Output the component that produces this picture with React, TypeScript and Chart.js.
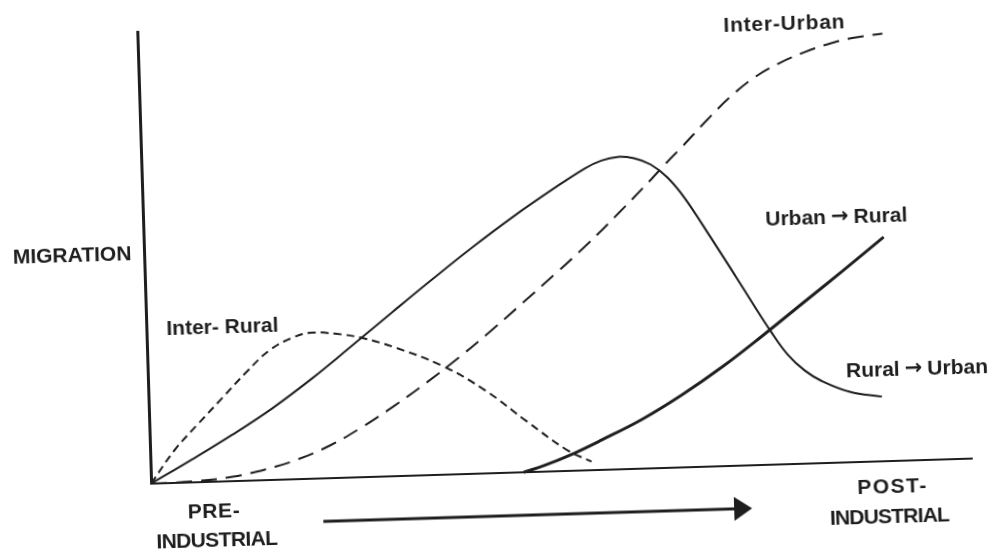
import React, { useEffect, useRef } from "react";
import { Chart, registerables } from "chart.js";

Chart.register(...registerables);

// Stage of the mobility transition (0 = pre-industrial, 100 = post-industrial)
const interRuralX = [0, 3, 6, 9, 12, 15, 18, 20, 23, 26, 30, 36, 41, 46, 50.7, 53.7];
const interRuralY = [0, 7.3, 13, 18.5, 24, 28.8, 31.5, 32.3, 31.9, 30.9, 28.6, 24.0, 18.4, 11.2, 4.7, 1.9];

const ruralUrbanX = [0, 5, 10, 15, 20, 25, 30, 35, 40, 45, 50, 54, 56, 58, 60, 62, 64, 66, 69, 72, 74, 76, 78, 80, 82, 85.4, 89.3];
const ruralUrbanY = [0, 5.0, 10.2, 15.8, 22.2, 29.2, 36.3, 43.3, 50.1, 56.5, 62.4, 66.8, 68.4, 69.1, 68.7, 67.2, 64.2, 59.6, 50.8, 41.7, 35.5, 29.5, 24.2, 20.6, 18.2, 15.6, 14.3];

const interUrbanX = [0, 5, 10, 14, 18, 22, 26, 30, 34, 38, 42, 46, 50, 54, 58, 62, 64, 66, 69, 72, 75, 78, 81, 84, 87, 90.7];
const interUrbanY = [0, 0.2, 1.0, 2.4, 4.4, 7.3, 11.2, 15.7, 20.6, 25.9, 31.6, 37.6, 43.7, 50.0, 56.8, 63.9, 67.6, 71.1, 76.6, 81.7, 85.8, 88.7, 90.9, 92.6, 93.8, 94.6];

const urbanRuralX = [45.4, 48, 51, 55, 60, 65, 70, 75, 80, 85, 90.1];
const urbanRuralY = [0, 1.4, 3.4, 6.6, 10.9, 16.1, 22.0, 28.6, 35.5, 42.4, 49.6];

const seriesNames = ["Inter- Rural", "Rural \u2192 Urban", "Inter-Urban", "Urban \u2192 Rural"];
const axisLabelY = "MIGRATION";
const axisLabelStart = ["PRE-", "INDUSTRIAL"];
const axisLabelEnd = ["POST-", "INDUSTRIAL"];

const INK = "#1e1e1e";
const FONT = "bold 21px 'Liberation Sans', Arial, sans-serif";
const ARROW_FONT = "bold 21px 'DejaVu Sans', sans-serif";

const toPoints = (xs: number[], ys: number[]) => xs.map((x, i) => ({ x, y: ys[i] }));

const labelsPlugin = {
  id: "scanLabels",
  afterDraw(chart: any) {
    const ctx = chart.ctx as CanvasRenderingContext2D;
    ctx.save();
    ctx.fillStyle = INK;
    ctx.strokeStyle = INK;
    ctx.textBaseline = "middle";
    const put = (t: string, x: number, y: number, ls = 0) => {
      ctx.font = FONT;
      (ctx as any).letterSpacing = ls + "px";
      ctx.textAlign = "center";
      ctx.fillText(t, x, y);
    };
    // label with an arrow glyph drawn in a heavier font
    const putArrow = (t: string, x: number, y: number) => {
      const [a, b] = t.split(" \u2192 ");
      (ctx as any).letterSpacing = "0px";
      ctx.textAlign = "left";
      ctx.font = FONT;
      const wa = ctx.measureText(a).width;
      const wb = ctx.measureText(b).width;
      ctx.font = ARROW_FONT;
      const wr = ctx.measureText("\u2192").width;
      const gap = 5;
      const total = wa + wb + wr + gap * 2;
      let cx = x - total / 2;
      ctx.font = FONT;
      ctx.fillText(a, cx, y);
      cx += wa + gap;
      ctx.font = ARROW_FONT;
      ctx.fillText("\u2192", cx, y);
      cx += wr + gap;
      ctx.font = FONT;
      ctx.fillText(b, cx, y);
    };
    put(seriesNames[2], 792, 33, 0.8);
    putArrow(seriesNames[3], 838, 228);
    putArrow(seriesNames[1], 914, 382);
    put(seriesNames[0], 221, 319, 0);
    put(axisLabelY, 73, 243, 0);
    put(axisLabelStart[0], 207, 503, 0.6);
    put(axisLabelStart[1], 209, 532, -0.6);
    put(axisLabelEnd[0], 886, 499, 1.5);
    put(axisLabelEnd[1], 882, 529, -0.8);
    // progression arrow
    ctx.lineWidth = 3;
    ctx.beginPath();
    ctx.moveTo(316, 516);
    ctx.lineTo(730, 516);
    ctx.stroke();
    ctx.beginPath();
    ctx.moveTo(745, 516);
    ctx.lineTo(727, 504);
    ctx.lineTo(727, 528);
    ctx.closePath();
    ctx.fill();
    ctx.restore();
  },
};

export default function App() {
  const ref = useRef<HTMLCanvasElement | null>(null);
  useEffect(() => {
    if (!ref.current) return;
    const common = {
      borderColor: INK,
      tension: 0.4,
      pointRadius: 0,
      fill: false,
      clip: false,
    };
    const chart = new Chart(ref.current, {
      type: "line",
      data: {
        datasets: [
          { ...common, label: seriesNames[0], data: toPoints(interRuralX, interRuralY), borderWidth: 2, borderDash: [8, 5] },
          { ...common, label: seriesNames[1], data: toPoints(ruralUrbanX, ruralUrbanY), borderWidth: 2 },
          { ...common, label: seriesNames[2], data: toPoints(interUrbanX, interUrbanY), borderWidth: 2, borderDash: [16, 9] },
          { ...common, label: seriesNames[3], data: toPoints(urbanRuralX, urbanRuralY), borderWidth: 3 },
        ] as any,
      },
      options: {
        responsive: false,
        animation: false,
        devicePixelRatio: 1,
        layout: { padding: { left: 145, right: 28, top: 21, bottom: 83 } },
        plugins: { legend: { display: false }, tooltip: { enabled: false } },
        scales: {
          x: {
            type: "linear",
            min: 0,
            max: 100,
            grid: { display: false, drawTicks: false },
            ticks: { display: false },
            border: { display: true, color: INK, width: 2 },
          },
          y: {
            type: "linear",
            min: 0,
            max: 100,
            grid: { display: false, drawTicks: false },
            ticks: { display: false },
            border: { display: true, color: INK, width: 3 },
          },
        },
      } as any,
      plugins: [labelsPlugin],
    });
    return () => chart.destroy();
  }, []);
  return (
    <div
      style={{
        position: "fixed",
        left: 0,
        top: 0,
        width: 994,
        height: 556,
        background: "#ffffff",
        transform: "rotate(-1.75deg)",
        transformOrigin: "497px 278px",
      }}
    >
      <canvas ref={ref} width={994} height={556} style={{ display: "block", width: 994, height: 556 }} />
    </div>
  );
}
